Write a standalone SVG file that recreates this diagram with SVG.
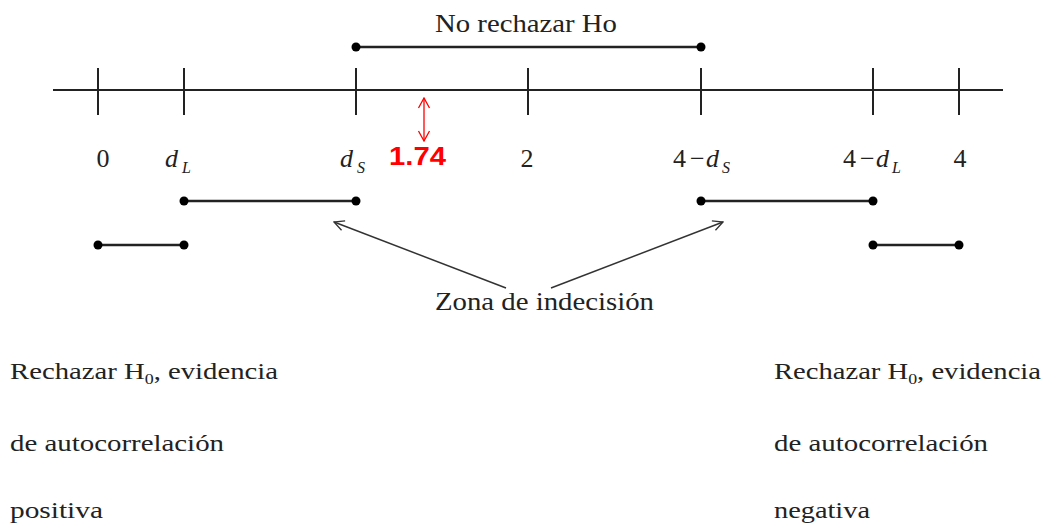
<svg xmlns="http://www.w3.org/2000/svg" width="1046" height="529" viewBox="0 0 1046 529">
<style>
.ln{stroke:#222;stroke-width:2;fill:none}
.bar{stroke:#222;stroke-width:2.5;fill:none}
.dot{fill:#000}
.t{font-family:"Liberation Serif",serif;font-size:26px;fill:#222}
.b{font-family:"Liberation Serif",serif;font-size:24px;fill:#222}
.i{font-style:italic}
.sub{font-size:16px;font-style:italic}
.red{font-family:"Liberation Sans",Arial,sans-serif;font-weight:bold;font-size:25px;fill:#f00}
</style>
<defs>
<marker id="oa" viewBox="0 0 12 12" refX="11" refY="6" markerWidth="12" markerHeight="12" markerUnits="userSpaceOnUse" orient="auto-start-reverse">
<path d="M1,1 L11,6 L1,11" fill="none" stroke="#333" stroke-width="1.3"/>
</marker>
<marker id="ra" viewBox="0 0 12 12" refX="11" refY="6" markerWidth="12" markerHeight="14" markerUnits="userSpaceOnUse" orient="auto-start-reverse">
<path d="M1,0.5 L11,6 L1,11.5" fill="none" stroke="#f00" stroke-width="1.3"/>
</marker>
</defs>
<g id="axis">
<line class="ln" x1="53" y1="90" x2="1003" y2="90"/>
<line class="ln" x1="98" y1="68" x2="98" y2="115"/>
<line class="ln" x1="184" y1="68" x2="184" y2="115"/>
<line class="ln" x1="356" y1="68" x2="356" y2="115"/>
<line class="ln" x1="528" y1="68" x2="528" y2="115"/>
<line class="ln" x1="701" y1="68" x2="701" y2="115"/>
<line class="ln" x1="873" y1="68" x2="873" y2="115"/>
<line class="ln" x1="959" y1="68" x2="959" y2="115"/>
</g>
<g id="labels">
<text class="t" x="103" y="167" text-anchor="middle">0</text>
<text class="t i" x="165" y="167">d<tspan class="sub" x="182" y="173">L</tspan></text>
<text class="t i" x="340" y="167">d<tspan class="sub" x="357" y="173">S</tspan></text>
<text class="t" x="527" y="167" text-anchor="middle">2</text>
<text class="t" x="673" y="167">4<tspan x="690">−</tspan><tspan class="i" x="706">d</tspan><tspan class="sub" x="722" y="173">S</tspan></text>
<text class="t" x="843" y="167">4<tspan x="860">−</tspan><tspan class="i" x="876">d</tspan><tspan class="sub" x="892" y="173">L</tspan></text>
<text class="t" x="960" y="167" text-anchor="middle">4</text>
</g>
<g id="no-rechazar">
<text class="t" x="435" y="32" textLength="182" lengthAdjust="spacingAndGlyphs">No rechazar Ho</text>
<line class="bar" x1="356" y1="47" x2="701" y2="47"/>
<circle class="dot" cx="356" cy="47" r="4.5"/>
<circle class="dot" cx="701" cy="47" r="4.5"/>
</g>
<g id="value">
<text class="red" x="389" y="165" textLength="57" lengthAdjust="spacingAndGlyphs">1.74</text>
</g>
<g id="zona-left">
<line class="bar" x1="184" y1="201" x2="356" y2="201"/>
<circle class="dot" cx="184" cy="201" r="4.5"/>
<circle class="dot" cx="356" cy="201" r="4.5"/>
</g>
<g id="zona-right">
<line class="bar" x1="701" y1="201" x2="873" y2="201"/>
<circle class="dot" cx="701" cy="201" r="4.5"/>
<circle class="dot" cx="873" cy="201" r="4.5"/>
</g>
<g id="rech-pos">
<line class="bar" x1="98" y1="245" x2="184" y2="245"/>
<circle class="dot" cx="98" cy="245" r="4.5"/>
<circle class="dot" cx="184" cy="245" r="4.5"/>
</g>
<g id="rech-neg">
<line class="bar" x1="873" y1="245" x2="959" y2="245"/>
<circle class="dot" cx="873" cy="245" r="4.5"/>
<circle class="dot" cx="959" cy="245" r="4.5"/>
</g>
<g id="zona-label">
<text class="t" x="435" y="310" textLength="219" lengthAdjust="spacingAndGlyphs">Zona de indecisión</text>
</g>
<g id="text-left">
<text class="b" x="10" y="379" textLength="268" lengthAdjust="spacingAndGlyphs">Rechazar H<tspan font-size="15" dy="5">0</tspan><tspan dy="-5">, evidencia</tspan></text>
<text class="b" x="10" y="451" textLength="214" lengthAdjust="spacingAndGlyphs">de autocorrelación</text>
<text class="b" x="10" y="518" textLength="93" lengthAdjust="spacingAndGlyphs">positiva</text>
</g>
<g id="text-right">
<text class="b" x="774" y="379" textLength="267" lengthAdjust="spacingAndGlyphs">Rechazar H<tspan font-size="15" dy="5">0</tspan><tspan dy="-5">, evidencia</tspan></text>
<text class="b" x="774" y="451" textLength="214" lengthAdjust="spacingAndGlyphs">de autocorrelación</text>
<text class="b" x="774" y="518" textLength="96" lengthAdjust="spacingAndGlyphs">negativa</text>
</g>
<g id="connectors">
<line x1="506" y1="288" x2="334" y2="222" stroke="#333" stroke-width="1.5" marker-end="url(#oa)"/>
<line x1="551" y1="288" x2="723" y2="222" stroke="#333" stroke-width="1.5" marker-end="url(#oa)"/>
<line x1="424" y1="98" x2="424" y2="141" stroke="#f00" stroke-width="1.3" marker-start="url(#ra)" marker-end="url(#ra)"/>
</g>
</svg>
